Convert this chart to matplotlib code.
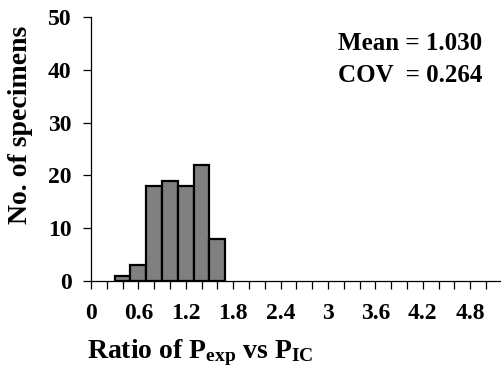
import matplotlib.pyplot as plt
from matplotlib.ticker import MultipleLocator, FormatStrFormatter

# histogram of test/prediction ratio
bin_edges = [0.3, 0.5, 0.7, 0.9, 1.1, 1.3, 1.5, 1.7]
counts = [1, 3, 18, 19, 18, 22, 8]
mean_txt = "Mean = 1.030"
cov_txt = "COV  = 0.264"

plt.rcParams['font.family'] = 'Liberation Serif'
plt.rcParams['font.weight'] = 'bold'
plt.rcParams['mathtext.fontset'] = 'custom'
plt.rcParams['mathtext.rm'] = 'Liberation Serif:bold'
plt.rcParams['mathtext.it'] = 'Liberation Serif:bold'
plt.rcParams['mathtext.bf'] = 'Liberation Serif:bold'

fig = plt.figure(figsize=(5.01, 3.72), dpi=100)
ax = fig.add_axes([91/501, 91/372, 410/501, 264/372])

widths = [b - a for a, b in zip(bin_edges[:-1], bin_edges[1:])]
ax.bar(bin_edges[:-1], counts, width=widths, align='edge',
       color='#808080', edgecolor='black', linewidth=1.6, zorder=3)

ax.set_xlim(0, 5.19)
ax.set_ylim(0, 50)
ax.xaxis.set_major_locator(MultipleLocator(0.6))
ax.xaxis.set_minor_locator(MultipleLocator(0.2))
ax.xaxis.set_major_formatter(FormatStrFormatter('%g'))
ax.yaxis.set_major_locator(MultipleLocator(10))

ax.tick_params(axis='both', which='both', direction='out', length=6, width=0.9)
ax.tick_params(axis='x', which='major', pad=10, labelsize=17)
ax.tick_params(axis='y', which='major', pad=8, labelsize=17)

ax.spines['top'].set_visible(False)
ax.spines['right'].set_visible(False)
ax.spines['left'].set_linewidth(0.9)
ax.spines['bottom'].set_linewidth(0.9)

ax.set_ylabel('No. of specimens', fontsize=20, fontweight='bold')
ax.yaxis.set_label_coords(-0.141, 0.593)
ax.set_xlabel('Ratio of P$_{exp}$ vs P$_{IC}$', fontsize=20, fontweight='bold')
ax.xaxis.set_label_coords(0.266, -0.215)

ax.text(3.13, 44.9, mean_txt, fontsize=18, fontweight='bold', va='center')
ax.text(3.13, 39.0, cov_txt, fontsize=18, fontweight='bold', va='center')

fig.savefig('out.png', dpi=100)
